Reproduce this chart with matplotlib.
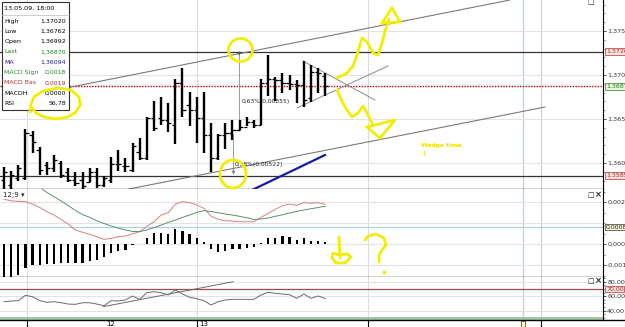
import numpy as np
import matplotlib
matplotlib.use('Agg')
import matplotlib.pyplot as plt
import matplotlib.transforms as mtransforms
from matplotlib.patches import Rectangle, Ellipse, Polygon
from matplotlib.ticker import FuncFormatter, FixedLocator, MultipleLocator

plt.rcParams['font.family'] = ['DejaVu Sans']

# ---------------- data ----------------
opens = [1.35807, 1.35750, 1.35830, 1.35830, 1.36318, 1.36148, 1.35977, 1.35943, 1.36000, 1.35898,
         1.35807, 1.35807, 1.35784, 1.35898, 1.35750, 1.35807, 1.35989, 1.35966, 1.35920, 1.36125,
         1.36057, 1.36511, 1.36511, 1.36489, 1.36432, 1.36909, 1.36659, 1.36602, 1.36511, 1.36318,
         1.36057, 1.36318, 1.36341, 1.36375, 1.36409, 1.36466, 1.36432, 1.36909, 1.36955, 1.36943,
         1.36909, 1.36898, 1.36886, 1.36739, 1.37034, 1.36992]
highs = [1.35955, 1.35909, 1.35977, 1.36386, 1.36364, 1.36182, 1.36011, 1.36091, 1.36023, 1.35943,
         1.35898, 1.35898, 1.35943, 1.35943, 1.35852, 1.36068, 1.36148, 1.36057, 1.36227, 1.36284,
         1.36523, 1.36705, 1.36750, 1.36682, 1.36955, 1.37080, 1.36807, 1.36750, 1.36807, 1.36455,
         1.36330, 1.36455, 1.36489, 1.36489, 1.36523, 1.36489, 1.36955, 1.37227, 1.36977, 1.37023,
         1.37000, 1.36943, 1.37159, 1.37114, 1.37080, 1.37020]
lows = [1.35670, 1.35670, 1.35795, 1.35807, 1.36114, 1.35864, 1.35864, 1.35898, 1.35830, 1.35784,
        1.35739, 1.35705, 1.35784, 1.35716, 1.35727, 1.35773, 1.35909, 1.35898, 1.35898, 1.36034,
        1.36034, 1.36364, 1.36432, 1.36352, 1.36216, 1.36523, 1.36420, 1.36227, 1.36114, 1.35898,
        1.36034, 1.36159, 1.36261, 1.36375, 1.36420, 1.36398, 1.36432, 1.36761, 1.36705, 1.36795,
        1.36830, 1.36682, 1.36636, 1.36693, 1.36795, 1.36762]
closes = [1.35898, 1.35864, 1.35943, 1.36341, 1.36239, 1.35920, 1.35943, 1.36034, 1.35864, 1.35807,
          1.35773, 1.35739, 1.35898, 1.35750, 1.35830, 1.35989, 1.35989, 1.35966, 1.36193, 1.36057,
          1.36511, 1.36398, 1.36489, 1.36455, 1.36909, 1.36602, 1.36602, 1.36511, 1.36318, 1.36057,
          1.36318, 1.36341, 1.36375, 1.36409, 1.36466, 1.36432, 1.36909, 1.36955, 1.36943, 1.36909,
          1.36898, 1.36886, 1.36716, 1.37034, 1.37023, 1.36870]

macd_base = [0.00213, 0.00206, 0.00203, 0.00202, 0.00190, 0.00174, 0.00154, 0.00138, 0.00117, 0.00095,
             0.00067, 0.00056, 0.00046, 0.00035, 0.00022, 0.00027, 0.00035, 0.00038, 0.00048, 0.00059,
             0.00083, 0.00106, 0.00138, 0.00149, 0.00190, 0.00202, 0.00197, 0.00186, 0.00170, 0.00133,
             0.00117, 0.00111, 0.00109, 0.00106, 0.00106, 0.00106, 0.00127, 0.00146, 0.00165, 0.00183,
             0.00190, 0.00184, 0.00197, 0.00194, 0.00197, 0.00189]
macd_signal = [0.0038, 0.0035, 0.0033, 0.0031, 0.0029, 0.0027, 0.00246, 0.00225, 0.00205, 0.00183,
               0.0016, 0.0014, 0.00127, 0.00111, 0.00098, 0.00086, 0.00076, 0.00067, 0.0006, 0.00059,
               0.00067, 0.00078, 0.0009, 0.00103, 0.00114, 0.00127, 0.00138, 0.0015, 0.00159, 0.00155,
               0.00149, 0.00143, 0.00138, 0.00132, 0.00125, 0.00117, 0.00119, 0.00124, 0.00132, 0.00139,
               0.00148, 0.00155, 0.00162, 0.00168, 0.00174, 0.0018]
macd_hist = [-0.0017, -0.0016, -0.00148, -0.00116, -0.0010, -0.0010, -0.00095, -0.00095, -0.00092, -0.00092,
             -0.00092, -0.00089, -0.0008, -0.00076, -0.0006, -0.00041, -0.00033, -0.00029, -0.00005, 0.00001,
             0.00027, 0.00051, 0.00054, 0.00046, 0.0007, 0.00063, 0.00048, 0.0003, 0.00008, -0.00025,
             -0.00037, -0.00032, -0.00025, -0.00022, -0.0002, -0.00016, 0.00006, 0.00027, 0.00027, 0.00038,
             0.00032, 0.00019, 0.00027, 0.00016, 0.00014, 0.00008]
rsi = [52.4, 53.4, 53.8, 61.2, 59.3, 53.8, 51.6, 52.4, 51.0, 49.2,
       48.8, 51.0, 51.0, 49.2, 46.9, 53.8, 53.4, 54.8, 60.3, 55.7,
       64.8, 66.2, 64.8, 61.7, 68.6, 63.0, 58.5, 56.6, 53.8, 47.9,
       52.4, 54.8, 55.7, 55.7, 55.7, 55.7, 61.7, 65.4, 64.0, 63.0,
       62.1, 57.1, 63.0, 57.1, 60.3, 56.78]

price_levels = [1.37266, 1.36870, 1.35856]
price_ticks = [1.3600, 1.3650, 1.3700, 1.3750]
macd_ticks = [0.0020, 0.0000, -0.0010]
macd_marker = 0.0008
rsi_ticks = [80, 60, 40]
rsi_levels = [70, 30]
day_labels = ['12', '13']
day_breaks = [3.2, 27.0, 51.0]

info_header = '13.05.09, 18:00'
info_rows = [('High', '1,37020', 'black'), ('Low', '1,36762', 'black'), ('Open', '1,36992', 'black'),
             ('Last', '1,36870', '#1f7f1f'), ('MA', '1,36094', '#1c1c9a'),
             ('MACD Sign', '0,0018', '#2a8a2a'), ('MACD Bas', '0,0019', '#a83232'),
             ('MACDH', '0,0000', 'black'), ('RSI', '56,78', 'black')]

# trend lines (bar index, price)
upper_channel = ([8.96, 70.87], [1.36857, 1.37852])
lower_channel = ([17.5, 75.77], [1.35705, 1.36636])
blue_line = ([34.73, 44.96], [1.35693, 1.36091])
tri_upper = ([41.88, 51.96], [1.37159, 1.36716])
tri_lower = ([41.04, 53.78], [1.36625, 1.37102])
rsi_trend = ([13.9, 32.1], [45.6, 80.0])

# ---------------- layout ----------------
W, H = 625, 327
fig = plt.figure(figsize=(6.25, 3.27), dpi=100)
fig.patch.set_facecolor('white')


def rect(top, bottom, left=0, right=603):
    return [left / W, 1 - bottom / H, (right - left) / W, (bottom - top) / H]


ax = fig.add_axes(rect(0, 189))
axm = fig.add_axes(rect(189, 277))
axr = fig.add_axes(rect(277, 320))

x = np.arange(len(closes))
XL = (-0.56, 83.9)
for a in (ax, axm, axr):
    a.set_xlim(*XL)
    a.set_xticks([])
    for s in ('top', 'left'):
        a.spines[s].set_visible(False)
    a.spines['right'].set_color('black')
    a.spines['right'].set_linewidth(0.8)
    a.spines['bottom'].set_color('#222222')
    a.spines['bottom'].set_linewidth(1.0)
    a.yaxis.tick_right()
    a.tick_params(axis='y', which='major', labelsize=4.6, length=2, pad=1, width=0.6, colors='#333333')
    a.tick_params(axis='y', which='minor', length=1.2, width=0.5, colors='#555555')
    for db in day_breaks:
        a.axvline(db, color='#dcdcdc', lw=0.8, zorder=0)
    a.axvline(72.7, color='#b5d9e8', lw=1.0, zorder=0)
    a.axvline(75.2, color='#cfcfcf', lw=0.8, zorder=0)

comma = lambda fmt: FuncFormatter(lambda v, _: (fmt % v).replace('.', ','))

# ---- main price panel ----
ax.set_ylim(1.35705, 1.37852)
ax.yaxis.set_major_locator(FixedLocator(price_ticks))
ax.yaxis.set_minor_locator(MultipleLocator(0.001))
ax.yaxis.set_major_formatter(comma('%.4f'))
for t in price_ticks:
    ax.axhline(t, color='#e3e3e3', lw=0.8, zorder=0)
ax.axhline(price_levels[0], color='#333333', lw=0.9, zorder=1)
ax.axhline(price_levels[2], color='#333333', lw=0.9, zorder=1)
ax.axhline(price_levels[1], color='#cc0000', lw=1.0, ls=(0, (1, 1)), zorder=1)

ax.plot(*upper_channel, color='#7a7a7a', lw=0.8, zorder=2)
ax.plot(*lower_channel, color='#7a7a7a', lw=0.8, zorder=2)
ax.plot(*blue_line, color='#1a1aa8', lw=1.6, zorder=2)
ax.plot(*tri_upper, color='#8a8a8a', lw=0.7, zorder=2)
ax.plot(*tri_lower, color='#8a8a8a', lw=0.7, zorder=2)

# measurement lines
ax.plot([32.9, 32.9], [1.37250, 1.36466], color='#8a8a8a', lw=0.6, zorder=2)
ax.plot([32.07, 32.07], [1.36330, 1.35886], color='#8a8a8a', lw=0.6, zorder=2)
ax.plot([32.9], [1.37245], marker='+', color='#555555', ms=3, mew=0.6)
ax.plot([32.07], [1.35900], marker='v', color='#777777', ms=2.2, mfc='none', mew=0.5)
ax.text(33.3, 1.36700, '0,63%(0,00855)', fontsize=4.3, color='#222222', va='center', ha='left')
ax.text(32.3, 1.35980, '0,38%(0,00522)', fontsize=4.3, color='#222222', va='center', ha='left')

# OHLC bars
ax.vlines(x, lows, highs, color='black', lw=1.7, zorder=4)
ax.hlines(opens, x - 0.45, x, color='black', lw=0.9, zorder=4)
ax.hlines(closes, x, x + 0.45, color='black', lw=0.9, zorder=4)

# right axis value boxes
def axis_box(a, yv, txt, fc, ec, tc):
    tr = mtransforms.blended_transform_factory(a.transAxes, a.transData)
    a.text(1.005, yv, txt, transform=tr, fontsize=4.5, color=tc, va='center', ha='left',
           clip_on=False, zorder=20,
           bbox=dict(boxstyle='square,pad=0.12', fc=fc, ec=ec, lw=0.6))

axis_box(ax, price_levels[0], '1,37266', '#fbe3dc', '#c0504d', '#a0302c')
axis_box(ax, price_levels[1], '1,36870', '#e6f5dc', '#4c9a3c', '#2a7a2a')
axis_box(ax, price_levels[2], '1,35856', '#fbe3dc', '#c0504d', '#a0302c')

# ---- MACD panel ----
axm.set_ylim(-0.00157, 0.00262)
axm.yaxis.set_major_locator(FixedLocator(macd_ticks))
axm.yaxis.set_minor_locator(MultipleLocator(0.0005))
axm.yaxis.set_major_formatter(comma('%.4f'))
for t in [0.002, 0.001, 0.0, -0.001]:
    axm.axhline(t, color='#e3e3e3', lw=0.8, zorder=0)
axm.axhline(macd_marker, color='#a9d3e3', lw=0.9, zorder=1)
axm.bar(x, macd_hist, width=0.32, color='black', zorder=3)
axm.plot(x, macd_base, color='#d98080', lw=0.7, zorder=4)
axm.plot(x, macd_signal, color='#5f8f6a', lw=0.7, zorder=4)
axis_box(axm, macd_marker, '0,0008', '#fffbe0', '#555555', '#222222')
axm.text(0.005, 0.93, '12;9 \u25be', transform=axm.transAxes, fontsize=5, va='center', ha='left',
         color='#222222', bbox=dict(fc='white', ec='none', pad=0.3), zorder=6)

# ---- RSI panel ----
axr.set_ylim(27.2, 86.5)
axr.yaxis.set_major_locator(FixedLocator(rsi_ticks))
axr.yaxis.set_minor_locator(MultipleLocator(5))
axr.yaxis.set_major_formatter(comma('%.2f'))
for t in rsi_ticks:
    axr.axhline(t, color='#e3e3e3', lw=0.8, zorder=0)
axr.axhline(rsi_levels[0], color='#a54a4a', lw=0.9, zorder=1)
axr.axhline(rsi_levels[1], color='#9cc59c', lw=2.0, zorder=1)
axr.plot(x, rsi, color='#6a6a6a', lw=0.7, zorder=3)
axr.plot(*rsi_trend, color='#6a6a6a', lw=0.7, zorder=3)
axis_box(axr, rsi_levels[0], '70,00', '#fbe3dc', '#c0504d', '#a0302c')
axr.spines['bottom'].set_visible(False)

# ---------------- overlay (annotations / frame) ----------------
ov = fig.add_axes([0, 0, 1, 1], zorder=10)
ov.set_xlim(0, W)
ov.set_ylim(H, 0)
ov.axis('off')
ov.patch.set_visible(False)

# bottom time axis
ov.plot([0, W], [320, 320], color='black', lw=1.0)
for px in (27, 197, 368, 541):
    ov.plot([px, px], [320, 327], color='black', lw=0.8)
ov.text(111, 324.5, day_labels[0], fontsize=5, ha='center', va='center')
ov.text(199.5, 324.5, day_labels[1], fontsize=5, ha='left', va='center')
ov.add_patch(Rectangle((520.5, 320.5), 4, 6, fc='#fff7c0', ec='#333333', lw=0.5))

# window icons
for py in (2, 195, 281):
    ov.text(591, py, '\u25a1', fontsize=5, ha='center', va='center', color='#222222')
for py in (195, 281):
    ov.text(598, py, '\u00d7', fontsize=6, ha='center', va='center', color='#222222', weight='bold')

# info box
ov.add_patch(Rectangle((1.5, 1.5), 67.5, 108.5, fc='white', ec='#333333', lw=0.8, zorder=5))
ov.plot([1.5, 69], [14.5, 14.5], color='#bbbbbb', lw=0.5, zorder=6)
ov.text(4.5, 8.5, info_header, fontsize=4.6, va='center', ha='left', zorder=6)
for k, (lab, val, col) in enumerate(info_rows):
    yy = 21 + k * 10.3
    ov.text(4.5, yy, lab, fontsize=4.5, va='center', ha='left', color=col, zorder=6)
    ov.text(66, yy, val, fontsize=4.5, va='center', ha='right', color=col, zorder=6)

# yellow freehand annotations
Y = '#f2ee00'
kw = dict(color=Y, lw=2.0, solid_capstyle='round', solid_joinstyle='round', zorder=8)
ov.plot([30, 31, 34, 43, 58, 71, 79, 80, 76, 68, 56, 44, 36, 32],
        [112, 104, 97, 91, 88, 90, 97, 105, 112, 117, 119, 117, 113, 108], **kw)
ov.add_patch(Ellipse((240.5, 50), 24, 23, fill=False, ec=Y, lw=2.0, zorder=8))
ov.add_patch(Ellipse((233, 174), 26, 28, fill=False, ec=Y, lw=2.0, zorder=8))
# zigzag up
ov.plot([337, 347, 353, 357, 362, 367, 373, 378, 382, 385, 389],
        [78, 73, 66, 55, 38, 42, 53, 55, 43, 31, 19], **kw)
ov.add_patch(Polygon([[392, 8], [382, 23], [400, 22]], closed=True, fill=False, ec=Y, lw=2.0, zorder=8))
# zigzag down
ov.plot([337, 341, 345, 352, 358, 363, 368, 373],
        [90, 99, 107, 117, 113, 106, 115, 125], **kw)
ov.add_patch(Polygon([[367, 127], [395, 120], [380, 138]], closed=True, fill=False, ec=Y, lw=2.0, zorder=8))
# "б" like sign
ov.plot([339, 339.5, 340], [237, 248, 258], **kw)
ov.plot([339, 333, 332, 336, 345, 351, 347, 339],
        [255, 253, 258, 263, 263, 257, 254, 255], **kw)
# question mark
ov.plot([365, 368, 376, 384, 386, 382, 379, 379],
        [240, 236, 234, 238, 245, 250, 255, 262], **kw)
ov.plot([384], [272], marker='o', ms=1.8, color=Y, zorder=8)
ov.text(421, 146, 'Wedge time', fontsize=4.3, color='#e8e400', weight='bold', ha='left', va='center')
ov.text(421, 154, ':)', fontsize=4.3, color='#e8e400', weight='bold', ha='left', va='center')

fig.savefig('out.png', dpi=100)
